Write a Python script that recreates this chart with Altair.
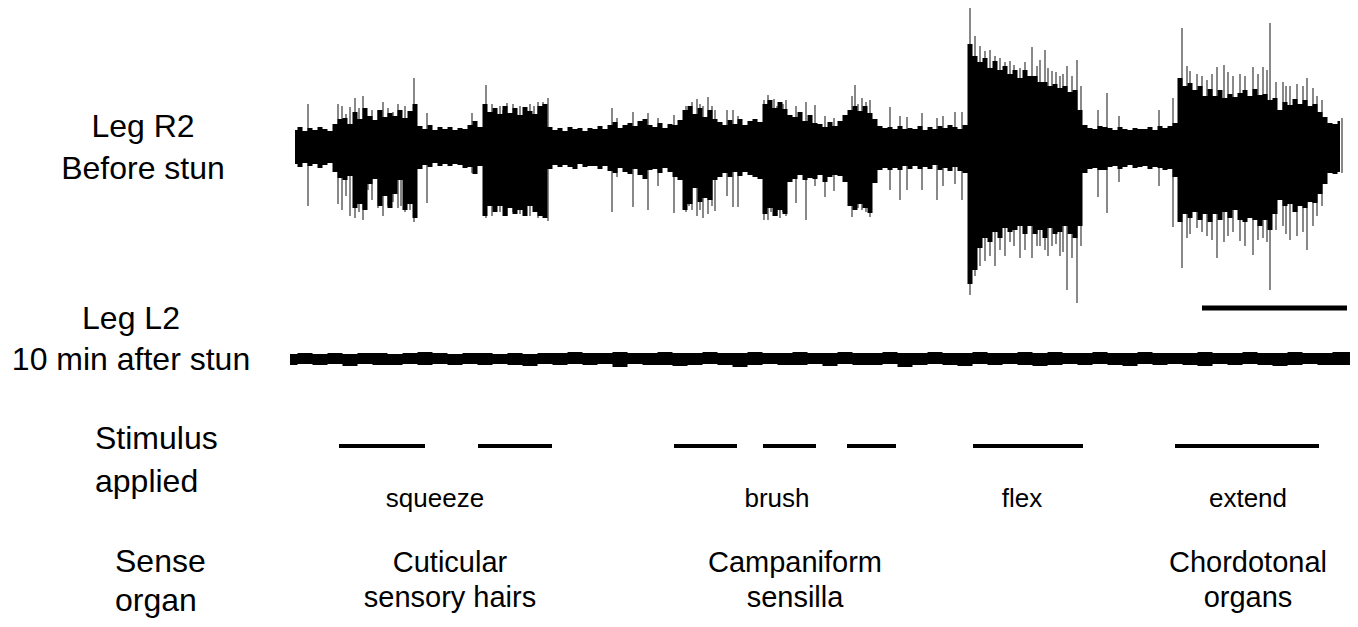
import altair as alt
import pandas as pd

# ---------------- data ----------------
# Trace 1 (Leg R2, before stun): envelope of the recording, one sample every ENV_DT time units
ENV_DT = 5
env_up = [
    16, 19, 15, 18, 16, 19, 17, 15, 22, 27,
    28, 22, 34, 27, 38, 30, 26, 36, 29, 33,
    30, 36, 28, 35, 42, 20, 17, 21, 16, 19,
    17, 19, 16, 18, 17, 21, 25, 19, 42, 34,
    38, 32, 40, 33, 38, 31, 39, 35, 32, 40,
    42, 19, 16, 18, 15, 19, 17, 18, 15, 18,
    17, 20, 17, 21, 24, 18, 21, 23, 20, 25,
    27, 21, 19, 23, 18, 22, 21, 26, 36, 40,
    32, 38, 29, 36, 27, 24, 21, 26, 22, 27,
    21, 25, 27, 24, 42, 46, 38, 44, 37, 31,
    29, 34, 25, 31, 23, 22, 19, 24, 20, 25,
    31, 36, 40, 35, 40, 33, 27, 20, 18, 19,
    17, 20, 17, 18, 17, 20, 16, 19, 17, 20,
    18, 21, 19, 17, 21, 102, 90, 84, 88, 78,
    85, 76, 80, 72, 76, 68, 76, 70, 70, 64,
    64, 60, 62, 58, 60, 54, 56, 36, 21, 18,
    17, 20, 19, 18, 16, 19, 17, 16, 18, 17,
    17, 19, 16, 20, 18, 20, 23, 68, 60, 63,
    56, 60, 50, 57, 50, 56, 48, 52, 49, 53,
    56, 50, 57, 51, 52, 46, 48, 36, 44, 41,
    47, 42, 46, 40, 42, 34, 29, 23, 22, 25,
]
env_dn = [
    18, 21, 17, 20, 18, 22, 19, 17, 26, 32,
    34, 30, 62, 58, 64, 38, 33, 60, 50, 62,
    48, 34, 64, 58, 72, 23, 19, 21, 17, 20,
    18, 20, 18, 19, 22, 21, 28, 20, 70, 60,
    66, 60, 70, 62, 68, 64, 70, 60, 66, 70,
    72, 23, 19, 21, 19, 21, 23, 18, 21, 20,
    20, 23, 20, 25, 27, 22, 26, 28, 23, 29,
    33, 24, 23, 27, 22, 26, 31, 34, 64, 58,
    42, 56, 52, 54, 34, 31, 27, 31, 26, 30,
    26, 29, 31, 33, 68, 62, 70, 64, 68, 36,
    33, 29, 34, 32, 33, 29, 36, 31, 29, 30,
    36, 60, 64, 58, 62, 67, 37, 24, 22, 24,
    22, 24, 20, 23, 20, 23, 21, 23, 19, 24,
    22, 25, 21, 25, 27, 138, 124, 102, 92, 96,
    86, 92, 82, 86, 84, 80, 88, 80, 88, 84,
    92, 82, 88, 86, 80, 88, 92, 80, 27, 23,
    22, 24, 24, 21, 20, 23, 21, 19, 22, 21,
    20, 23, 21, 22, 24, 23, 31, 76, 68, 72,
    66, 74, 68, 76, 68, 74, 66, 72, 64, 74,
    76, 72, 74, 80, 74, 84, 68, 54, 60, 58,
    66, 60, 62, 56, 57, 48, 38, 27, 28, 26,
]

# Individual spikes of trace 1: time, height above and depth below the baseline
spike_t = [13, 43, 47, 51, 55, 60, 64, 68, 73, 77, 83, 88, 93, 98, 103, 106, 110, 115, 119,
           132, 177,
           191, 197, 201, 205, 208, 212, 218, 225, 230, 235, 239, 243, 248, 253,
           317, 322, 338, 353, 363, 379, 391, 394, 397, 402, 405, 408, 413, 417, 420,
           432, 438, 443,
           469, 473, 476, 479, 482, 485, 488, 491, 501, 511, 520, 530, 539,
           557, 560, 563, 567, 571, 575, 595, 605, 612, 627, 642, 648, 660, 667,
           675, 680, 685, 690, 695, 700, 705, 710, 715, 719, 725, 730, 737, 742, 745,
           750, 753, 757, 761, 765, 768, 772, 777, 782, 786,
           803, 812, 824, 864, 878,
           887, 892, 895, 902, 907, 912, 917, 922, 929, 933, 938, 945, 950, 958, 963,
           968, 972, 975, 981, 988, 991, 995, 1002, 1008, 1012, 1018, 1022, 1027, 1047]
spike_up = [42, 42, 40, 32, 39, 48, 38, 50, 30, 36, 36, 44, 38, 34, 42, 36, 40, 34, 68,
            33, 33,
            61, 42, 38, 40, 36, 43, 42, 40, 38, 42, 40, 44, 44, 48,
            38, 28, 34, 33, 28, 31, 40, 36, 44, 47, 42, 40, 49, 40, 36,
            36, 36, 30,
            46, 51, 44, 47, 40, 44, 42, 46, 40, 44, 41, 30, 28,
            50, 61, 42, 48, 44, 46, 39, 30, 29, 33, 28, 30, 34, 34,
            142, 110, 100, 95, 96, 90, 88, 84, 85, 81, 78, 84, 99, 80, 86,
            96, 78, 75, 74, 70, 72, 80, 70, 86, 60,
            36, 53, 30, 36, 48,
            118, 80, 75, 72, 70, 66, 72, 79, 81, 74, 70, 72, 70, 79, 72,
            79, 76, 123, 64, 64, 60, 60, 62, 60, 68, 58, 50, 46, 28]
spike_dn = [60, 58, 64, 50, 70, 72, 66, 74, 44, 54, 62, 70, 60, 56, 62, 60, 66, 64, 76,
            57, 27,
            72, 70, 62, 66, 60, 70, 66, 68, 64, 70, 62, 72, 70, 75,
            66, 31, 61, 64, 40, 67, 66, 60, 64, 70, 64, 72, 68, 60, 65,
            50, 61, 61,
            74, 74, 66, 70, 70, 72, 66, 70, 57, 74, 40, 51, 45,
            71, 60, 62, 64, 66, 71, 44, 54, 44, 44, 54, 40, 38, 54,
            149, 130, 120, 115, 110, 120, 104, 110, 96, 100, 112, 104, 112, 100, 100,
            104, 110, 100, 98, 110, 106, 144, 112, 157, 100,
            51, 67, 36, 40, 81,
            122, 92, 88, 82, 86, 90, 94, 112, 96, 90, 86, 95, 100, 109, 94,
            92, 96, 144, 84, 80, 88, 94, 90, 86, 104, 80, 70, 60, 27]

# Trace 2 (Leg L2, 10 min after stun): envelope, one sample every L2_DT time units
L2_T0 = -5
L2_DT = 15
l2_up = [5, 6, 5, 6, 5, 6, 6, 5, 6, 7,
         6, 5, 6, 6, 5, 6, 5, 6, 6, 7,
         6, 6, 7, 6, 6, 7, 6, 6, 7, 6,
         6, 7, 6, 6, 7, 6, 6, 7, 6, 6,
         7, 6, 6, 7, 6, 6, 7, 6, 6, 7,
         6, 7, 6, 6, 7, 6, 6, 7, 6, 6,
         6, 7, 6, 6, 7, 6, 6, 7, 6, 6,
         7, 7]
l2_dn = [6, 5, 6, 5, 7, 5, 6, 6, 5, 6,
         5, 6, 5, 6, 5, 6, 7, 5, 6, 5,
         6, 5, 8, 5, 6, 6, 7, 6, 5, 6,
         8, 6, 5, 6, 6, 5, 7, 5, 6, 6,
         5, 8, 6, 5, 6, 7, 5, 6, 5, 6,
         7, 6, 5, 6, 5, 6, 7, 5, 6, 5,
         6, 7, 5, 6, 5, 6, 7, 6, 5, 6,
         6, 6]

# Stimulus periods (start, end) and their names
stim_start = [44, 183, 379, 468, 552, 678, 880]
stim_end = [130, 257, 442, 521, 601, 788, 1024]
stim_names = ["squeeze", "brush", "flex", "extend"]
organ_line1 = ["Cuticular", "Campaniform", "Chordotonal"]
organ_line2 = ["sensory hairs", "sensilla", "organs"]

# Time scale bar (start, end)
scale_bar = [907, 1052]

row_titles = [("Leg R2", "Before stun"), ("Leg L2", "10 min after stun"),
              ("Stimulus", "applied"), ("Sense", "organ")]

# ---------------- layout (positions in chart space) ----------------
W, H = 1342, 611
X_DOMAIN = [-287, 1055]
TRACE1_Y = 138
TRACE2_Y = 351
BAR_Y = 300
STIM_Y = 438
STIM_LABEL_Y = 499
STIM_LABEL_T = [140, 482, 727, 953]
ORGAN_T = [155, 500, 953]
ORGAN_Y = [564, 599]
ROW_TITLE_POS = [(-152, "center", 129, 171), (-164, "center", 321, 362),
                 (-200, "left", 441, 484), (-180, "left", 564, 603)]
FONT = "Liberation Sans"

xs = alt.Scale(domain=X_DOMAIN, nice=False, zero=False)
ys = alt.Scale(domain=[0, H], reverse=True, nice=False, zero=False)


def X(f):
    return alt.X(f, type="quantitative", scale=xs, axis=None)


def Y(f):
    return alt.Y(f, type="quantitative", scale=ys, axis=None)


# ---------------- tables ----------------
env = pd.DataFrame({
    "t": [i * ENV_DT for i in range(len(env_up))],
    "hi": [TRACE1_Y - u for u in env_up],
    "lo": [TRACE1_Y + d for d in env_dn],
})
spikes = pd.DataFrame({
    "t": spike_t,
    "hi": [TRACE1_Y - u for u in spike_up],
    "lo": [TRACE1_Y + d for d in spike_dn],
})
l2 = pd.DataFrame({
    "t": [L2_T0 + i * L2_DT for i in range(len(l2_up))],
    "hi": [TRACE2_Y - u for u in l2_up],
    "lo": [TRACE2_Y + d for d in l2_dn],
})
stims = pd.DataFrame({"t": stim_start, "t2": stim_end, "y": STIM_Y})
bar = pd.DataFrame({"t": [scale_bar[0]], "t2": [scale_bar[1]], "y": [BAR_Y]})

stim_lab = pd.DataFrame({"t": STIM_LABEL_T, "y": STIM_LABEL_Y, "text": stim_names})
organ_lab = pd.DataFrame({
    "t": ORGAN_T * 2,
    "y": [ORGAN_Y[0]] * 3 + [ORGAN_Y[1]] * 3,
    "text": organ_line1 + organ_line2,
})
center_rows, left_rows = [], []
for (l1, l2txt), (tx, al, y1, y2) in zip(row_titles, ROW_TITLE_POS):
    target = center_rows if al == "center" else left_rows
    target.append({"t": tx, "y": y1, "text": l1})
    target.append({"t": tx, "y": y2, "text": l2txt})

# ---------------- marks ----------------
spike_layer = alt.Chart(spikes).mark_rule(color="#3a3a3a", strokeWidth=1.2).encode(
    x=X("t"), y=Y("hi"), y2="lo")
trace1 = alt.Chart(env).mark_area(color="black", interpolate="step").encode(
    x=X("t"), y=Y("hi"), y2="lo")
trace2 = alt.Chart(l2).mark_area(color="black", interpolate="step").encode(
    x=X("t"), y=Y("hi"), y2="lo")
stim_layer = alt.Chart(stims).mark_rule(color="black", strokeWidth=4).encode(
    x=X("t"), x2="t2", y=Y("y"))
bar_layer = alt.Chart(bar).mark_rule(color="black", strokeWidth=5).encode(
    x=X("t"), x2="t2", y=Y("y"))


def text_layer(df, size, align):
    return alt.Chart(pd.DataFrame(df)).mark_text(
        font=FONT, fontSize=size, align=align, baseline="alphabetic", color="black"
    ).encode(x=X("t"), y=Y("y"), text="text:N")


chart = alt.layer(
    spike_layer, trace1, trace2, bar_layer, stim_layer,
    text_layer(stim_lab, 26, "center"),
    text_layer(organ_lab, 29, "center"),
    text_layer(center_rows, 32, "center"),
    text_layer(left_rows, 32, "left"),
).properties(
    width=W, height=H, padding=0,
    autosize=alt.AutoSizeParams(type="none"),
).configure_view(stroke=None)

chart.save("out.html", embed_options={"renderer": "svg", "actions": False})
